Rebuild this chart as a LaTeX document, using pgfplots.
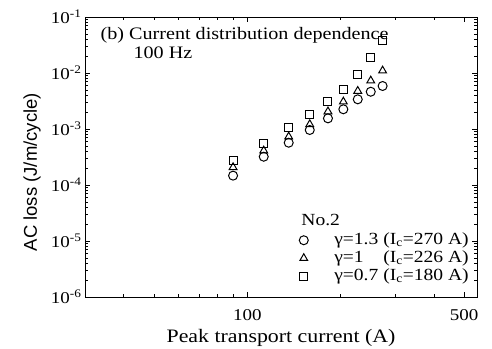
\documentclass[border=0pt]{standalone}
\usepackage{fontspec}
\setmainfont{Liberation Serif}[FakeStretch=1.15]
\newfontfamily\arial{Liberation Sans}
\usepackage{pgfplots}
\pgfplotsset{compat=1.18}
\newcommand{\tl}[1]{10\textsuperscript{#1}}
\begin{document}
\begin{tikzpicture}
\useasboundingbox (-85pt,-51pt) rectangle (407pt,297pt);
\begin{axis}[
  at={(0pt,0pt)}, anchor=south west,
  scale only axis, width=392pt, height=280pt,
  xmode=log, ymode=log,
  xmin=30, xmax=550, ymin=1e-6, ymax=1e-1,
  xtick={100,500}, xticklabels={100,500},
  minor xtick={40,50,60,70,80,90,200,300,400},
  ytick={1e-6,1e-5,1e-4,1e-3,1e-2,1e-1},
  yticklabels={\tl{-6},\tl{-5},\tl{-4},\tl{-3},\tl{-2},\tl{-1}},
  minor ytick={2e-6,3e-6,4e-6,5e-6,6e-6,7e-6,8e-6,9e-6,
               2e-5,3e-5,4e-5,5e-5,6e-5,7e-5,8e-5,9e-5,
               2e-4,3e-4,4e-4,5e-4,6e-4,7e-4,8e-4,9e-4,
               2e-3,3e-3,4e-3,5e-3,6e-3,7e-3,8e-3,9e-3,
               2e-2,3e-2,4e-2,5e-2,6e-2,7e-2,8e-2,9e-2},
  tick align=inside,
  axis line style={line width=0.9pt},
  every tick/.style={black, line width=0.7pt},
  major tick length=5pt, minor tick length=3pt,
  tick label style={font=\fontsize{16.5}{18}\selectfont},
  xticklabel style={yshift=-9pt},
  xlabel={Peak transport current (A)},
  xlabel style={at={(axis description cs:0.5,-0.146)}, anchor=center, font=\fontsize{19}{22}\selectfont},
  ylabel={\arial AC loss (J/m/cycle)},
  ylabel style={at={(axis description cs:-0.135,0.446)}, anchor=center, font=\arial\fontsize{18.5}{20}\selectfont},
  legend style={at={(axis description cs:0.541,0.232)}, anchor=north west, draw=none, fill=none,
    inner sep=0pt, row sep=2pt, font=\fontsize{17}{19}\selectfont,
    nodes={inner sep=0pt, text height=12pt, text depth=4pt}},
  legend cell align=left,
  legend image code/.code={\path (0pt,0pt) (36pt,0pt); \draw[#1] plot coordinates {(6pt,0pt)};},
]
\addplot[only marks, mark=o, mark size=4.5pt, line width=1pt, black] coordinates {
 (90,1.47e-4) (113,3.20e-4) (136,5.69e-4) (159,9.6e-4) (182,1.55e-3)
 (204,2.25e-3) (227,3.39e-3) (250,4.63e-3) (273,5.86e-3)};
\addlegendentry{γ=1.3 (I\textsubscript{c}=270 A)}
\addplot[only marks, mark=triangle, mark size=4.5pt, line width=1pt, black] coordinates {
 (90,2.07e-4) (113,4.10e-4) (136,7.29e-4) (159,1.21e-3) (182,2.05e-3)
 (204,3.07e-3) (227,4.77e-3) (250,7.29e-3) (273,1.10e-2)};
\addlegendentry{γ=1\phantom{.3} (I\textsubscript{c}=226 A)}
\addplot[only marks, mark=square, mark size=4pt, line width=1pt, black] coordinates {
 (90,2.79e-4) (113,5.56e-4) (136,1.05e-3) (159,1.85e-3) (182,3.16e-3)
 (204,5.18e-3) (227,9.48e-3) (250,1.88e-2) (273,3.88e-2)};
\addlegendentry{γ=0.7 (I\textsubscript{c}=180 A)}
\node[anchor=west, font=\fontsize{17.5}{20}\selectfont] at (axis description cs:0.031,0.936) {(b) Current distribution dependence};
\node[anchor=west, font=\fontsize{17.5}{20}\selectfont] at (axis description cs:0.115,0.871) {100 Hz};
\node[anchor=west, font=\fontsize{17}{19}\selectfont] at (axis description cs:0.543,0.275) {No.2};
\end{axis}
\end{tikzpicture}
\end{document}
